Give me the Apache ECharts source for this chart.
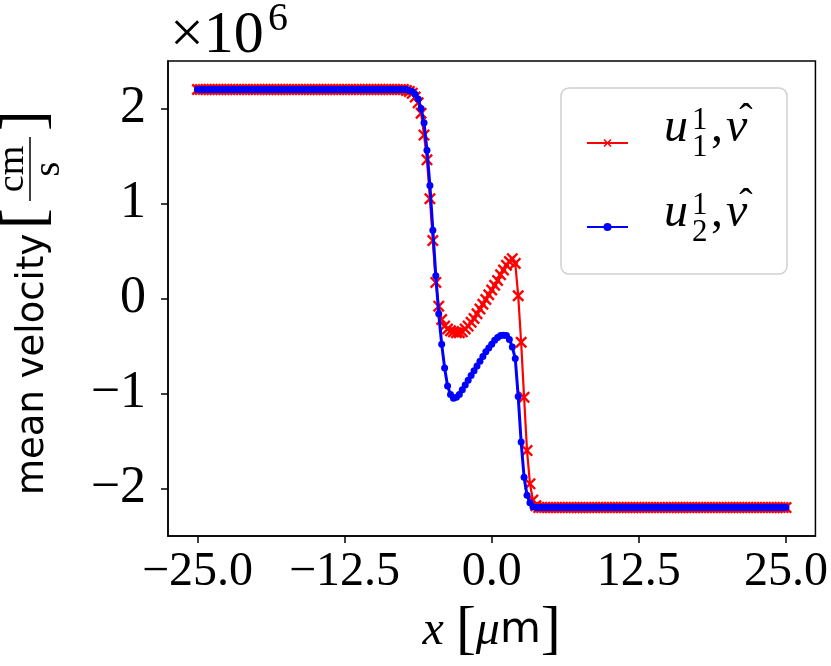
<!DOCTYPE html>
<html>
<head>
<meta charset="utf-8">
<script src="https://cdn.jsdelivr.net/npm/echarts@6/dist/echarts.min.js"></script>
<style>
  html, body { margin: 0; padding: 0; background: #fff; }
  #chart { width: 831px; height: 666px; }
</style>
</head>
<body>
<div id="chart"></div>
<script>
// x positions [um]
const xs = [
  -25, -24.75, -24.5, -24.25, -24, -23.75, -23.5, -23.25,
  -23, -22.75, -22.5, -22.25, -22, -21.75, -21.5, -21.25,
  -21, -20.75, -20.5, -20.25, -20, -19.75, -19.5, -19.25,
  -19, -18.75, -18.5, -18.25, -18, -17.75, -17.5, -17.25,
  -17, -16.75, -16.5, -16.25, -16, -15.75, -15.5, -15.25,
  -15, -14.75, -14.5, -14.25, -14, -13.75, -13.5, -13.25,
  -13, -12.75, -12.5, -12.25, -12, -11.75, -11.5, -11.25,
  -11, -10.75, -10.5, -10.25, -10, -9.75, -9.5, -9.25,
  -9, -8.75, -8.5, -8.25, -8, -7.75, -7.5, -7.25,
  -7, -6.75, -6.5, -6.25, -6, -5.75, -5.5, -5.25,
  -5, -4.75, -4.5, -4.25, -4, -3.75, -3.5, -3.25,
  -3, -2.75, -2.5, -2.25, -2, -1.75, -1.5, -1.25,
  -1, -0.75, -0.5, -0.25, 0, 0.25, 0.5, 0.75,
  1, 1.25, 1.5, 1.75, 2, 2.25, 2.5, 2.75,
  3, 3.25, 3.5, 3.75, 4, 4.25, 4.5, 4.75,
  5, 5.25, 5.5, 5.75, 6, 6.25, 6.5, 6.75,
  7, 7.25, 7.5, 7.75, 8, 8.25, 8.5, 8.75,
  9, 9.25, 9.5, 9.75, 10, 10.25, 10.5, 10.75,
  11, 11.25, 11.5, 11.75, 12, 12.25, 12.5, 12.75,
  13, 13.25, 13.5, 13.75, 14, 14.25, 14.5, 14.75,
  15, 15.25, 15.5, 15.75, 16, 16.25, 16.5, 16.75,
  17, 17.25, 17.5, 17.75, 18, 18.25, 18.5, 18.75,
  19, 19.25, 19.5, 19.75, 20, 20.25, 20.5, 20.75,
  21, 21.25, 21.5, 21.75, 22, 22.25, 22.5, 22.75,
  23, 23.25, 23.5, 23.75, 24, 24.25, 24.5, 24.75,
  25
];

// u_1^1 (red), units of 1e6 cm/s
const u1 = [
  // -25 .. -7.5 (71 values)
  2.2, 2.2, 2.2, 2.2, 2.2, 2.2, 2.2, 2.2, 2.2, 2.2,
  2.2, 2.2, 2.2, 2.2, 2.2, 2.2, 2.2, 2.2, 2.2, 2.2,
  2.2, 2.2, 2.2, 2.2, 2.2, 2.2, 2.2, 2.2, 2.2, 2.2,
  2.2, 2.2, 2.2, 2.2, 2.2, 2.2, 2.2, 2.2, 2.2, 2.2,
  2.2, 2.2, 2.2, 2.2, 2.2, 2.2, 2.2, 2.2, 2.2, 2.2,
  2.2, 2.2, 2.2, 2.2, 2.2, 2.2, 2.2, 2.2, 2.2, 2.2,
  2.2, 2.2, 2.2, 2.2, 2.2, 2.2, 2.2, 2.2, 2.2, 2.2,
  2.2,
  // -7.25 .. 3.75 (45 values)
  2.19, 2.18, 2.16, 2.12, 2.06, 1.95, 1.72, 1.46, 1.05, 0.61,
  0.17, -0.08, -0.22, -0.29, -0.32, -0.34, -0.35, -0.36, -0.36, -0.35,
  -0.32, -0.29, -0.25, -0.21, -0.16, -0.11, -0.06, -0.01, 0.04, 0.09,
  0.14, 0.19, 0.25, 0.30, 0.35, 0.39, 0.42, 0.37, 0.03, -0.46,
  -1.04, -1.6, -1.95, -2.12, -2.18,
  // 4 .. 25 (85 values)
  -2.2, -2.2, -2.2, -2.2, -2.2, -2.2, -2.2, -2.2, -2.2, -2.2,
  -2.2, -2.2, -2.2, -2.2, -2.2, -2.2, -2.2, -2.2, -2.2, -2.2,
  -2.2, -2.2, -2.2, -2.2, -2.2, -2.2, -2.2, -2.2, -2.2, -2.2,
  -2.2, -2.2, -2.2, -2.2, -2.2, -2.2, -2.2, -2.2, -2.2, -2.2,
  -2.2, -2.2, -2.2, -2.2, -2.2, -2.2, -2.2, -2.2, -2.2, -2.2,
  -2.2, -2.2, -2.2, -2.2, -2.2, -2.2, -2.2, -2.2, -2.2, -2.2,
  -2.2, -2.2, -2.2, -2.2, -2.2, -2.2, -2.2, -2.2, -2.2, -2.2,
  -2.2, -2.2, -2.2, -2.2, -2.2, -2.2, -2.2, -2.2, -2.2, -2.2,
  -2.2, -2.2, -2.2, -2.2, -2.2
];

// u_2^1 (blue)
const u2 = [
  // -25 .. -7.25 (72 values)
  2.2, 2.2, 2.2, 2.2, 2.2, 2.2, 2.2, 2.2, 2.2, 2.2,
  2.2, 2.2, 2.2, 2.2, 2.2, 2.2, 2.2, 2.2, 2.2, 2.2,
  2.2, 2.2, 2.2, 2.2, 2.2, 2.2, 2.2, 2.2, 2.2, 2.2,
  2.2, 2.2, 2.2, 2.2, 2.2, 2.2, 2.2, 2.2, 2.2, 2.2,
  2.2, 2.2, 2.2, 2.2, 2.2, 2.2, 2.2, 2.2, 2.2, 2.2,
  2.2, 2.2, 2.2, 2.2, 2.2, 2.2, 2.2, 2.2, 2.2, 2.2,
  2.2, 2.2, 2.2, 2.2, 2.2, 2.2, 2.2, 2.2, 2.2, 2.2,
  2.2, 2.2,
  // -7 .. 3.5 (43 values)
  2.19, 2.18, 2.15, 2.1, 2.0, 1.85, 1.56, 1.19, 0.72, 0.24,
  -0.16, -0.48, -0.73, -0.92, -1.01, -1.05, -1.04, -1.01, -0.96, -0.91,
  -0.86, -0.81, -0.76, -0.71, -0.66, -0.61, -0.56, -0.52, -0.48, -0.44,
  -0.41, -0.39, -0.385, -0.39, -0.43, -0.51, -0.63, -1.03, -1.51, -1.88,
  -2.07, -2.15, -2.19,
  // 3.75 .. 25 (86 values)
  -2.2, -2.2, -2.2, -2.2, -2.2, -2.2, -2.2, -2.2, -2.2, -2.2,
  -2.2, -2.2, -2.2, -2.2, -2.2, -2.2, -2.2, -2.2, -2.2, -2.2,
  -2.2, -2.2, -2.2, -2.2, -2.2, -2.2, -2.2, -2.2, -2.2, -2.2,
  -2.2, -2.2, -2.2, -2.2, -2.2, -2.2, -2.2, -2.2, -2.2, -2.2,
  -2.2, -2.2, -2.2, -2.2, -2.2, -2.2, -2.2, -2.2, -2.2, -2.2,
  -2.2, -2.2, -2.2, -2.2, -2.2, -2.2, -2.2, -2.2, -2.2, -2.2,
  -2.2, -2.2, -2.2, -2.2, -2.2, -2.2, -2.2, -2.2, -2.2, -2.2,
  -2.2, -2.2, -2.2, -2.2, -2.2, -2.2, -2.2, -2.2, -2.2, -2.2,
  -2.2, -2.2, -2.2, -2.2, -2.2, -2.2
];

const xTicks = [-25, -12.5, 0, 12.5, 25];
const yTicks = [-2, -1, 0, 1, 2];
const seriesNames = ['u11', 'u21'];

const SERIF = "'Liberation Serif'";
const SANS = "'DejaVu Sans'";
const crossPath = 'path://M0,1.4L1.4,0L5,3.6L8.6,0L10,1.4L6.4,5L10,8.6L8.6,10L5,6.4L1.4,10L0,8.6L3.6,5Z';

function minus(s) { return s.replace('-', '\u2212'); }

const chart = echarts.init(document.getElementById('chart'));

// legend label: u with stacked sup/sub, then ", nu-hat"
function legendLabel(y0, sub) {
  const t = (x, y, text, size, italic, extra) => ({
    type: 'text', x: x, y: y, z: 6,
    style: Object.assign({
      text: text, fontFamily: SERIF, fontSize: size, fontStyle: italic ? 'italic' : 'normal',
      fill: '#000', verticalAlign: 'middle'
    }, extra || {})
  });
  return [
    t(664, y0, 'u', 48, true),
    t(692, y0 - 7, '1', 31, false),
    t(692, y0 + 20, sub, 31, false),
    t(711, y0, ',', 48, false),
    t(726, y0, '\u03bd', 48, true),
    t(746, y0 - 8, '\u02c6', 40, false, { align: 'center' })
  ];
}

const option = {
  animation: false,
  backgroundColor: '#fff',
  grid: { left: 168, right: 10, top: 61, bottom: 124, show: true, borderColor: '#000', borderWidth: 1.5, backgroundColor: 'transparent' },
  xAxis: {
    type: 'value', min: -27.5, max: 27.5,
    name: '{i|x }{b|[}{i|\u03bc}{s|m}{b|]}',
    nameLocation: 'middle', nameGap: 44,
    nameTextStyle: {
      color: '#000',
      rich: {
        i: { fontFamily: SERIF, fontStyle: 'italic', fontSize: 48, color: '#000' },
        b: { fontFamily: SERIF, fontSize: 60, color: '#000' },
        s: { fontFamily: SANS, fontSize: 42, color: '#000' }
      }
    },
    axisLine: { show: true, onZero: false, lineStyle: { color: '#000', width: 1.5 } },
    axisTick: { show: true, inside: false, length: 7, customValues: xTicks, lineStyle: { color: '#000', width: 1.5 } },
    axisLabel: {
      customValues: xTicks, margin: 12, color: '#000', fontFamily: SERIF, fontSize: 48,
      formatter: v => minus(v.toFixed(1))
    },
    splitLine: { show: false }
  },
  yAxis: {
    type: 'value', min: -2.5, max: 2.5,
    axisLine: { show: true, onZero: false, lineStyle: { color: '#000', width: 1.5 } },
    axisTick: { show: true, inside: false, length: 7, customValues: yTicks, lineStyle: { color: '#000', width: 1.5 } },
    axisLabel: {
      customValues: yTicks, margin: 22, color: '#000', fontFamily: SERIF, fontSize: 52,
      formatter: v => minus(String(v))
    },
    splitLine: { show: false }
  },
  legend: {
    data: seriesNames, orient: 'vertical', left: 581, top: 133,
    itemWidth: 41, itemHeight: 10, itemGap: 75,
    formatter: () => '', textStyle: { fontSize: 1 }, selectedMode: false, z: 5
  },
  graphic: [
    { type: 'rect', z: 1, shape: { x: 561, y: 88, width: 226, height: 186, r: 8 },
      style: { fill: 'rgba(255,255,255,0.8)', stroke: '#d0d0d0', lineWidth: 1.5 } },
    ...legendLabel(128, '1'),
    ...legendLabel(213, '2'),
    // multiplier
    { type: 'text', x: 170, y: 36, style: { text: '\u00d710', fontFamily: SERIF, fontSize: 60, fill: '#000', verticalAlign: 'middle' } },
    { type: 'text', x: 268, y: 19, style: { text: '6', fontFamily: SERIF, fontSize: 40, fill: '#000', verticalAlign: 'middle' } },
    // y axis title
    {
      type: 'group', x: 33, y: 495, rotation: Math.PI / 2,
      children: [
        { type: 'text', x: 0, y: 0, style: { text: 'mean velocity', fontFamily: SANS, fontSize: 37, fill: '#000', verticalAlign: 'middle' } },
        { type: 'text', x: 266, y: -6, style: { text: '[', fontFamily: SERIF, fontSize: 62, fill: '#000', verticalAlign: 'middle' } },
        { type: 'text', x: 326, y: -20, style: { text: 'cm', fontFamily: SERIF, fontSize: 38, fill: '#000', align: 'center', verticalAlign: 'middle' } },
        { type: 'line', shape: { x1: 294, y1: -3, x2: 358, y2: -3 }, style: { stroke: '#000', lineWidth: 1.5 } },
        { type: 'text', x: 326, y: 16, style: { text: 's', fontFamily: SERIF, fontSize: 38, fill: '#000', align: 'center', verticalAlign: 'middle' } },
        { type: 'text', x: 364, y: -6, style: { text: ']', fontFamily: SERIF, fontSize: 62, fill: '#000', verticalAlign: 'middle' } }
      ]
    }
  ],
  series: [
    {
      name: seriesNames[0], type: 'line', data: xs.map((x, i) => [x, u1[i]]),
      symbol: crossPath, symbolSize: 12, showAllSymbol: true,
      itemStyle: { color: '#ff0000' }, lineStyle: { color: '#ff0000', width: 2.2 }, z: 2
    },
    {
      name: seriesNames[1], type: 'line', data: xs.map((x, i) => [x, u2[i]]),
      symbol: 'circle', symbolSize: 7, showAllSymbol: true,
      itemStyle: { color: '#0000ff' }, lineStyle: { color: '#0000ff', width: 3 }, z: 3
    }
  ]
};

chart.setOption(option);
</script>
</body>
</html>
